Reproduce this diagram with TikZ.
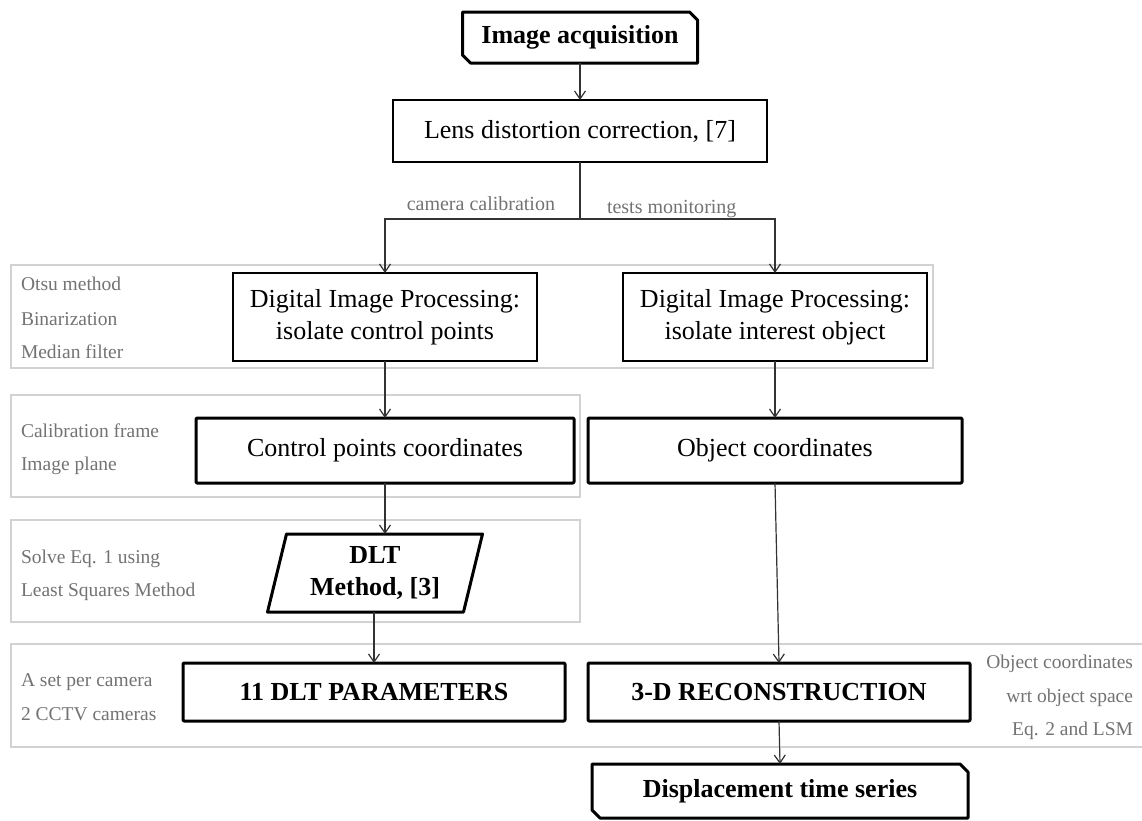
\documentclass[tikz,border=0pt]{standalone}
\usepackage{fontspec}
\setmainfont{Liberation Serif}
\usetikzlibrary{arrows.meta}
\definecolor{panelgray}{RGB}{210,210,210}
\definecolor{notegray}{RGB}{115,115,115}
\begin{document}
\begin{tikzpicture}[x=1pt,y=-1pt,
  every node/.style={inner sep=0pt,outer sep=0pt},
  boxtext/.style={font=\fontsize{26}{32}\selectfont,align=center},
  boldtext/.style={font=\fontsize{26}{32}\selectfont\bfseries,align=center},
  thinbox/.style={draw=black,line width=1.5pt},
  thickbox/.style={draw=black,line width=3pt,line join=round,rounded corners=1pt},
  thickline/.style={draw=black,line width=3pt,line join=round},
  panel/.style={draw=panelgray,line width=1.5pt},
  note/.style={font=\fontsize{19.5}{24}\selectfont,text=notegray},
  conn/.style={draw=black!80,line width=1.2pt},
  arr/.style={conn,-{Straight Barb[length=8pt,width=11pt]}}
]
\useasboundingbox (0,0) rectangle (1142,820);
\fill[white] (0,0) rectangle (1142,820);

% panels
\draw[panel] (11,265) rectangle (933,368);
\draw[panel] (11,395) rectangle (580,497);
\draw[panel] (11,520) rectangle (580,622);
\draw[panel] (11,644) rectangle (1150,747);

% notes
\node[note,anchor=base west] (n1) at (21,290) {Otsu method};
\node[note,anchor=base west] (n2) at (21,325) {Binarization};
\node[note,anchor=base west] (n3) at (21,358) {Median filter};
\node[note,anchor=base west] (n4) at (21,437) {Calibration frame};
\node[note,anchor=base west] (n5) at (21,470) {Image plane};
\node[note,anchor=base west] (n6) at (21,563) {Solve Eq. 1 using};
\node[note,anchor=base west] (n7) at (21,596) {Least Squares Method};
\node[note,anchor=base west] (n8) at (21,686) {A set per camera};
\node[note,anchor=base west] (n9) at (21,720) {2 CCTV cameras};
\node[note,anchor=base east] (n10) at (1133,668) {Object coordinates};
\node[note,anchor=base east] (n11) at (1133,702) {wrt object space};
\node[note,anchor=base east] (n12) at (1133,735) {Eq. 2 and LSM};

% nodes
\node[boldtext,minimum width=235pt,minimum height=51pt] (acq) at (580,37.5) {Image acquisition};
\draw[thickline] (acq.north west) -- ([xshift=-8pt]acq.north east) -- ([yshift=-8pt]acq.north east)
  -- (acq.south east) -- ([xshift=8pt]acq.south west) -- ([yshift=8pt]acq.south west) -- cycle;

\node[boxtext,thinbox,minimum width=374pt,minimum height=62pt] (lens) at (580,131) {Lens distortion correction, [7]};

\node[boxtext,thinbox,minimum width=304pt,minimum height=88pt] (dipL) at (385,317) {Digital Image Processing:\\isolate control points};
\node[boxtext,thinbox,minimum width=304pt,minimum height=88pt] (dipR) at (775,317) {Digital Image Processing:\\isolate interest object};

\node[boxtext,thickbox,minimum width=378pt,minimum height=65pt] (ctrl) at (385,450.5) {Control points coordinates};
\node[boxtext,thickbox,minimum width=374pt,minimum height=65pt] (obj) at (775,450.5) {Object coordinates};

\node[boldtext,minimum width=196pt,minimum height=78pt] (dlt) at (375,573) {DLT\\Method, [3]};
\draw[thickline] ([xshift=9.5pt]dlt.north west) -- ([xshift=9.5pt]dlt.north east)
  -- ([xshift=-9.5pt]dlt.south east) -- ([xshift=-9.5pt]dlt.south west) -- cycle;

\node[boldtext,thickbox,minimum width=382pt,minimum height=58pt] (par) at (374,692) {11 DLT PARAMETERS};
\node[boldtext,thickbox,minimum width=382pt,minimum height=58pt] (rec) at (779,692) {3-D RECONSTRUCTION};

\node[boldtext,minimum width=376pt,minimum height=54pt] (disp) at (780,791) {Displacement time series};
\draw[thickline] (disp.north west) -- ([xshift=-8pt]disp.north east) -- ([yshift=-8pt]disp.north east)
  -- (disp.south east) -- ([xshift=8pt]disp.south west) -- ([yshift=8pt]disp.south west) -- cycle;

% branch
\coordinate (split) at (580,219);
\node[note,anchor=base east,font=\fontsize{20}{24}\selectfont] (lcal) at (555,210) {camera calibration};
\node[note,anchor=base west,font=\fontsize{20}{24}\selectfont] (lmon) at (607,213) {tests monitoring};

% connectors
\draw[arr] (acq.south) -- (lens.north);
\draw[conn] (lens.south) -- (split);
\draw[arr] (split) -| (dipL.north);
\draw[arr] (split) -| (dipR.north);
\draw[arr] (dipL.south) -- (ctrl.north);
\draw[arr] (dipR.south) -- (obj.north);
\draw[arr] (ctrl.south) -- (ctrl.south |- dlt.north);
\draw[arr] (par.north |- dlt.south) -- (par.north);
\draw[arr] (obj.south) -- (rec.north);
\draw[arr] (rec.south) -- (disp.north);
\end{tikzpicture}
\end{document}
